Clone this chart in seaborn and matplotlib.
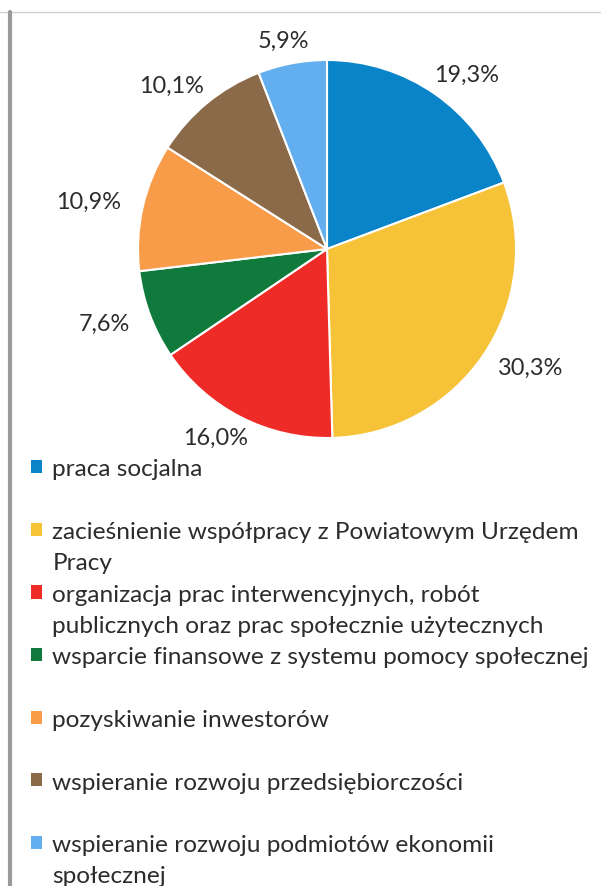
import matplotlib
matplotlib.use("Agg")
import matplotlib.pyplot as plt
import seaborn as sns
import numpy as np
from matplotlib.patches import Patch
from matplotlib.lines import Line2D

# ---- data ----
categories = [
    "praca socjalna",
    "zacieśnienie współpracy z Powiatowym Urzędem\nPracy",
    "organizacja prac interwencyjnych, robót\npublicznych oraz prac społecznie użytecznych",
    "wsparcie finansowe z systemu pomocy społecznej",
    "pozyskiwanie inwestorów",
    "wspieranie rozwoju przedsiębiorczości",
    "wspieranie rozwoju podmiotów ekonomii\nspołecznej",
]
values = [19.3, 30.3, 16.0, 7.6, 10.9, 10.1, 5.9]
colors = ["#0a84c8", "#f6c238", "#ee2b26", "#107a3d", "#f99c4a", "#8a6a48", "#62aeee"]

sns.set_theme(style="white")
plt.rcParams['font.family'] = ['Lato', 'DejaVu Sans']
TXT = "#2c2c2c"

W, H = 601, 887
fig = plt.figure(figsize=(W / 100, H / 100), dpi=100)
fig.patch.set_facecolor("white")

# pie geometry (pixels)
R_px, cx, cy = 189, 327, 250
lim = 1.5
side = 2 * lim * R_px
ax = fig.add_axes([(cx - side / 2) / W, (H - cy - side / 2) / H, side / W, side / H])
wedges, _ = ax.pie(values, colors=colors, startangle=90, counterclock=False, radius=1,
                   wedgeprops=dict(edgecolor="white", linewidth=1.5))
ax.set_xlim(-lim, lim)
ax.set_ylim(-lim, lim)
ax.set_aspect("equal")
ax.axis("off")

fig.canvas.draw()
r = fig.canvas.get_renderer()

def fit_size(s, target_px):
    t = fig.text(0, 0, s, fontsize=10)
    w = t.get_window_extent(r).width
    t.remove()
    return 10 * target_px / w

fs_pct = fit_size("19,3%", 65)
fs_leg = fit_size("wsparcie finansowe z systemu pomocy społecznej", 536)

# percentage labels outside the pie
RL = 212 / R_px
for w, v in zip(wedges, values):
    th = np.deg2rad((w.theta1 + w.theta2) / 2)
    c, s = np.cos(th), np.sin(th)
    t = ax.text(0, 0, f"{v:.1f}%".replace(".", ","), ha="center", va="center",
                fontsize=fs_pct, color=TXT)
    bb = t.get_window_extent(r).transformed(ax.transData.inverted())
    t.set_position(((RL + bb.width / 2) * c, RL * s))

# legend: two rows per category
handles, labels = [], []
for c, lab in zip(colors, categories):
    lines = lab.split("\n")
    handles.append(Patch(facecolor=c, edgecolor="none"))
    labels.append(lines[0])
    handles.append(Patch(facecolor="none", edgecolor="none"))
    labels.append(lines[1] if len(lines) > 1 else " ")

fs_px = fs_leg * 100 / 72
hl = 11.0 / fs_px
pad = (52.3 - 31.0 - 11.0) / fs_px

def make_legend(ls, anchor):
    leg = fig.legend(handles, labels, loc="upper left", bbox_to_anchor=anchor,
                     frameon=False, fontsize=fs_leg, handlelength=hl, handleheight=hl,
                     handletextpad=pad, labelspacing=ls, borderpad=0, borderaxespad=0)
    for t in leg.get_texts():
        t.set_color(TXT)
    return leg

ls = 0.3
top = 455
leg = make_legend(ls, (31.0 / W, 1 - top / H))
fig.canvas.draw()
tx = leg.get_texts()
pitch = (tx[0].get_window_extent(r).y0 - tx[12].get_window_extent(r).y0) / 12
ls += (31.3 - pitch) / fs_px
leg.remove()
leg = make_legend(ls, (31.0 / W, 1 - top / H))
fig.canvas.draw()
b0 = leg.get_texts()[0].get_window_extent(r)
center_from_top = H - (b0.y0 + b0.y1) / 2
top += 470 - center_from_top
leg.remove()
leg = make_legend(ls, (31.0 / W, 1 - top / H))

# frame lines from the scanned page
fig.add_artist(Line2D([0, 1], [1 - 12.5 / H] * 2, transform=fig.transFigure,
                      color="#cfcfcf", lw=1.0))
fig.add_artist(Line2D([9.5 / W] * 2, [0, 1 - 12.5 / H], transform=fig.transFigure,
                      color="#9a9a9a", lw=3.0))

fig.savefig("out.png", dpi=100, facecolor="white")
